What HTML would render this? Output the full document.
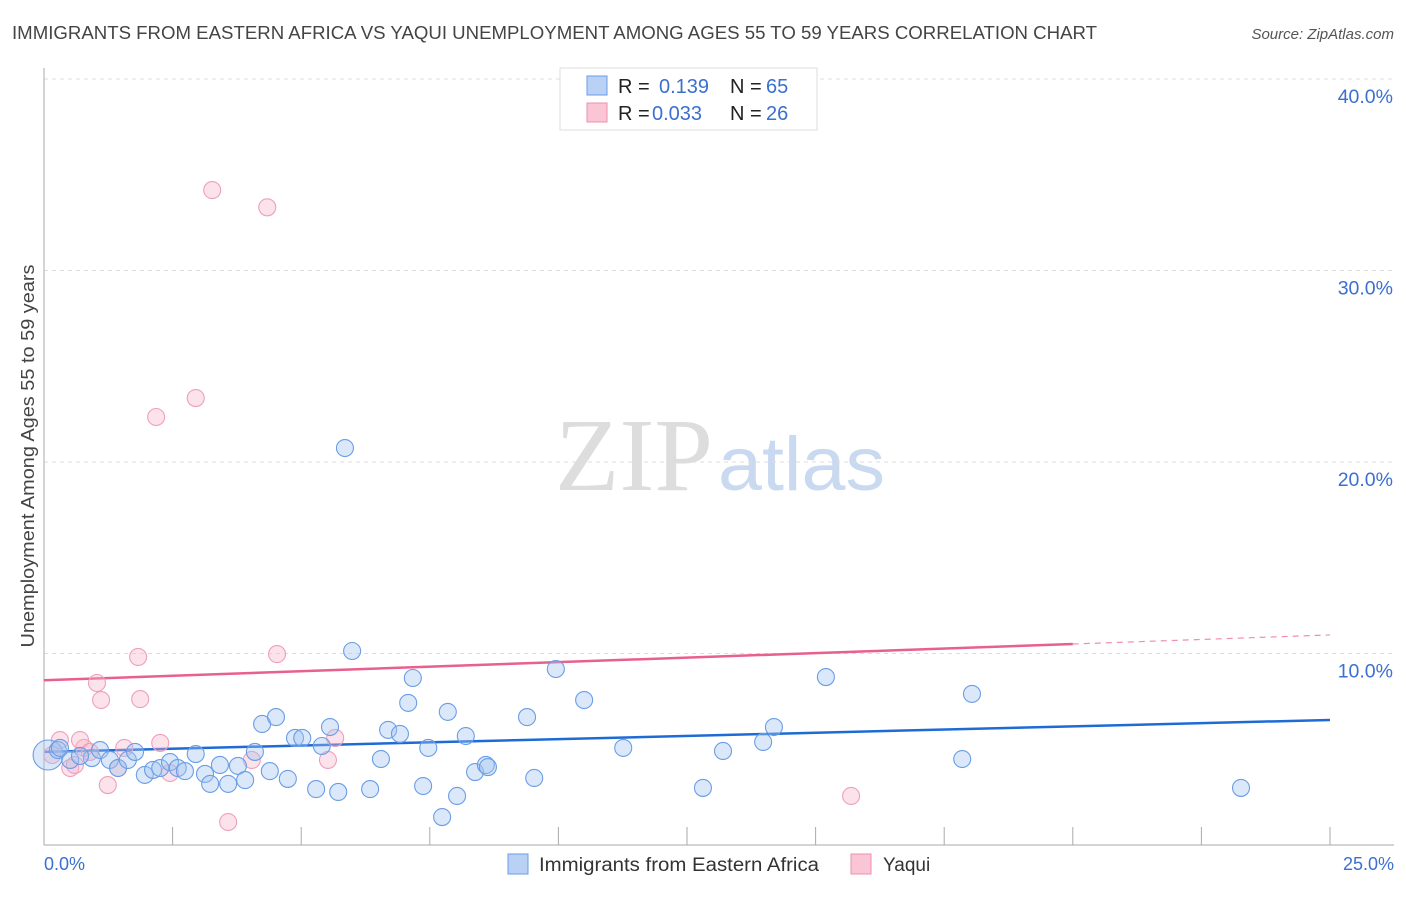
<!DOCTYPE html>
<html><head><meta charset="utf-8"><style>
body{margin:0;background:#fff;font-family:"Liberation Sans",sans-serif}
svg text{font-family:"Liberation Sans",sans-serif}
</style></head><body>
<svg id="chart" width="1406" height="892" viewBox="0 0 1406 892" xmlns="http://www.w3.org/2000/svg">
<text x="12" y="39" font-size="18" fill="#444" textLength="1085" lengthAdjust="spacingAndGlyphs">IMMIGRANTS FROM EASTERN AFRICA VS YAQUI UNEMPLOYMENT AMONG AGES 55 TO 59 YEARS CORRELATION CHART</text>
<text x="1394" y="39" font-size="15" fill="#555" font-style="italic" text-anchor="end">Source: ZipAtlas.com</text>
<g>
<text x="555" y="490" font-size="104" fill="#ddd" textLength="158" lengthAdjust="spacingAndGlyphs" style="font-family:'Liberation Serif',serif">ZIP</text>
<text x="718" y="490" font-size="76" fill="#c9d9f0" textLength="167" lengthAdjust="spacingAndGlyphs">atlas</text>
</g>
<g id="grid"></g>
<g id="axes"></g>
<g id="trends"></g>
<g id="pts"></g>
<text x="34" y="456" font-size="18" fill="#444" text-anchor="middle" textLength="383" lengthAdjust="spacingAndGlyphs" transform="rotate(-90 34 456)">Unemployment Among Ages 55 to 59 years</text>
<text x="44" y="870" font-size="18" fill="#3b6fd0">0.0%</text>
<text x="1394" y="870" font-size="18" fill="#3b6fd0" text-anchor="end">25.0%</text>
<g>
<rect x="560" y="68" width="257" height="62" fill="#fff" stroke="#ddd"/>
<rect x="587" y="76" width="20" height="19" fill="#b8d1f5" stroke="#6a9de6"/>
<rect x="587" y="103" width="20" height="19" fill="#fac5d5" stroke="#ec8fae"/>
<text x="618" y="93" font-size="20" fill="#222">R = </text><text x="659" y="93" font-size="20" fill="#3b6fd0">0.139</text>
<text x="730" y="93" font-size="20" fill="#222">N = </text><text x="766" y="93" font-size="20" fill="#3b6fd0">65</text>
<text x="618" y="120" font-size="20" fill="#222">R = </text><text x="652" y="120" font-size="20" fill="#3b6fd0">0.033</text>
<text x="730" y="120" font-size="20" fill="#222">N = </text><text x="766" y="120" font-size="20" fill="#3b6fd0">26</text>
</g>
<g>
<rect x="508" y="854" width="20" height="20" fill="#b8d1f5" stroke="#6a9de6"/>
<text x="539" y="871" font-size="19" fill="#333" textLength="280" lengthAdjust="spacingAndGlyphs">Immigrants from Eastern Africa</text>
<rect x="851" y="854" width="20" height="20" fill="#fac5d5" stroke="#ec8fae"/>
<text x="883" y="871" font-size="19" fill="#333">Yaqui</text>
</g>
</svg>
<script>
const yTicks=[10,20,30,40];
const yTickLabels=["10.0%","20.0%","30.0%","40.0%"];
const blueX=[0.08,0.27,0.51,0.93,1.09,1.28,1.44,1.63,1.77,1.96,2.12,2.26,2.45,2.60,2.74,2.95,3.13,3.23,3.42,3.58,3.77,3.91,4.10,4.24,4.39,4.51,4.74,4.88,5.02,5.29,5.40,5.56,5.72,5.99,5.85,6.34,6.55,6.69,6.92,7.08,7.17,7.37,7.47,7.85,8.03,7.74,8.20,8.38,8.59,8.63,9.39,9.53,9.95,10.50,11.26,12.81,13.20,13.98,14.19,15.20,17.85,18.04,23.27,0.31,0.70];
const blueY=[4.70,4.96,4.44,4.54,4.96,4.44,4.02,4.44,4.86,3.66,3.92,4.02,4.33,4.02,3.86,4.75,3.71,3.19,4.18,3.19,4.13,3.39,4.86,6.32,3.86,6.68,3.45,5.59,5.59,2.92,5.17,6.16,2.77,10.13,20.73,2.92,4.49,6.01,5.80,7.42,8.72,3.08,5.07,6.95,2.56,1.46,5.69,3.81,4.18,4.07,6.68,3.50,9.19,7.57,5.07,2.98,4.91,5.38,6.16,8.77,4.49,7.89,2.98,5.07,4.65];
const pinkX=[3.27,4.34,2.18,2.95,1.83,4.53,1.03,1.11,1.87,2.26,1.56,0.78,0.31,0.70,0.51,1.24,1.44,2.45,3.58,4.04,5.66,5.52,15.69,0.16,0.89,0.60];
const pinkY=[34.2,33.3,22.35,23.34,9.82,9.97,8.46,7.57,7.62,5.33,5.07,5.07,5.48,5.48,4.02,3.13,4.02,3.76,1.20,4.44,5.59,4.44,2.56,4.70,4.86,4.18];
const blueTrend=[4.86,6.53];
const pinkTrend=[8.6,10.97];
const NS="http://www.w3.org/2000/svg";
const X0=44,X1=1330,Y0=845,PY=19.15;
const sx=v=>X0+(X1-X0)*v/25;
const sy=v=>Y0-v*PY;
function mk(tag,attrs,parent){const e=document.createElementNS(NS,tag);for(const k in attrs)e.setAttribute(k,attrs[k]);parent.appendChild(e);return e;}
const gridG=document.getElementById('grid'),axesG=document.getElementById('axes'),trG=document.getElementById('trends'),ptsG=document.getElementById('pts');
yTicks.forEach((t,i)=>{
 const l=mk('line',{x1:X0,x2:1394,y1:sy(t),y2:sy(t),stroke:'#ddd','stroke-dasharray':'4,4'},gridG);
 
 
 const tx=mk('text',{x:1393,y:sy(t)+24,'font-size':19.5,fill:'#3b6fd0','text-anchor':'end'},gridG);
 tx.textContent=yTickLabels[i];
 
 
});
const topLine=mk('line',{x1:X0,x2:1394,y1:79,y2:79,stroke:'#ddd','stroke-dasharray':'4,4'},gridG);


const ya=mk('line',{x1:X0,x2:X0,y1:68,y2:Y0,stroke:'#aaa'},axesG);


const xa=mk('line',{x1:X0,x2:1394,y1:Y0,y2:Y0,stroke:'#aaa'},axesG);


for(let i=1;i<=10;i++){
 const t=mk('line',{x1:sx(i*2.5),x2:sx(i*2.5),y1:827,y2:Y0,stroke:'#aaa'},axesG);
 
 
}
const bl=mk('line',{x1:sx(0),x2:sx(25),y1:sy(blueTrend[0]),y2:sy(blueTrend[1]),stroke:'#1f6bd6','stroke-width':2.5},trG);


const pAt=v=>pinkTrend[0]+(pinkTrend[1]-pinkTrend[0])*v/25;
const pl=mk('line',{x1:sx(0),x2:sx(20),y1:sy(pAt(0)),y2:sy(pAt(20)),stroke:'#e8608c','stroke-width':2.5},trG);


const pd=mk('line',{x1:sx(20),x2:sx(25),y1:sy(pAt(20)),y2:sy(pAt(25)),stroke:'#e8608c','stroke-width':1.2,'stroke-dasharray':'6,5',opacity:0.7},trG);


pinkX.forEach((x,i)=>{
 const c=mk('circle',{cx:sx(x),cy:sy(pinkY[i]),r:8.5,fill:'rgba(248,180,200,0.38)',stroke:'#eea0bb','stroke-width':1.1},ptsG);
 
 
});
blueX.forEach((x,i)=>{
 const c=mk('circle',{cx:sx(x),cy:sy(blueY[i]),r:i===0?15:8.5,fill:'rgba(160,195,240,0.38)',stroke:'#6a9de6','stroke-width':1.1},ptsG);
 
 
});
</script>
</body></html>
